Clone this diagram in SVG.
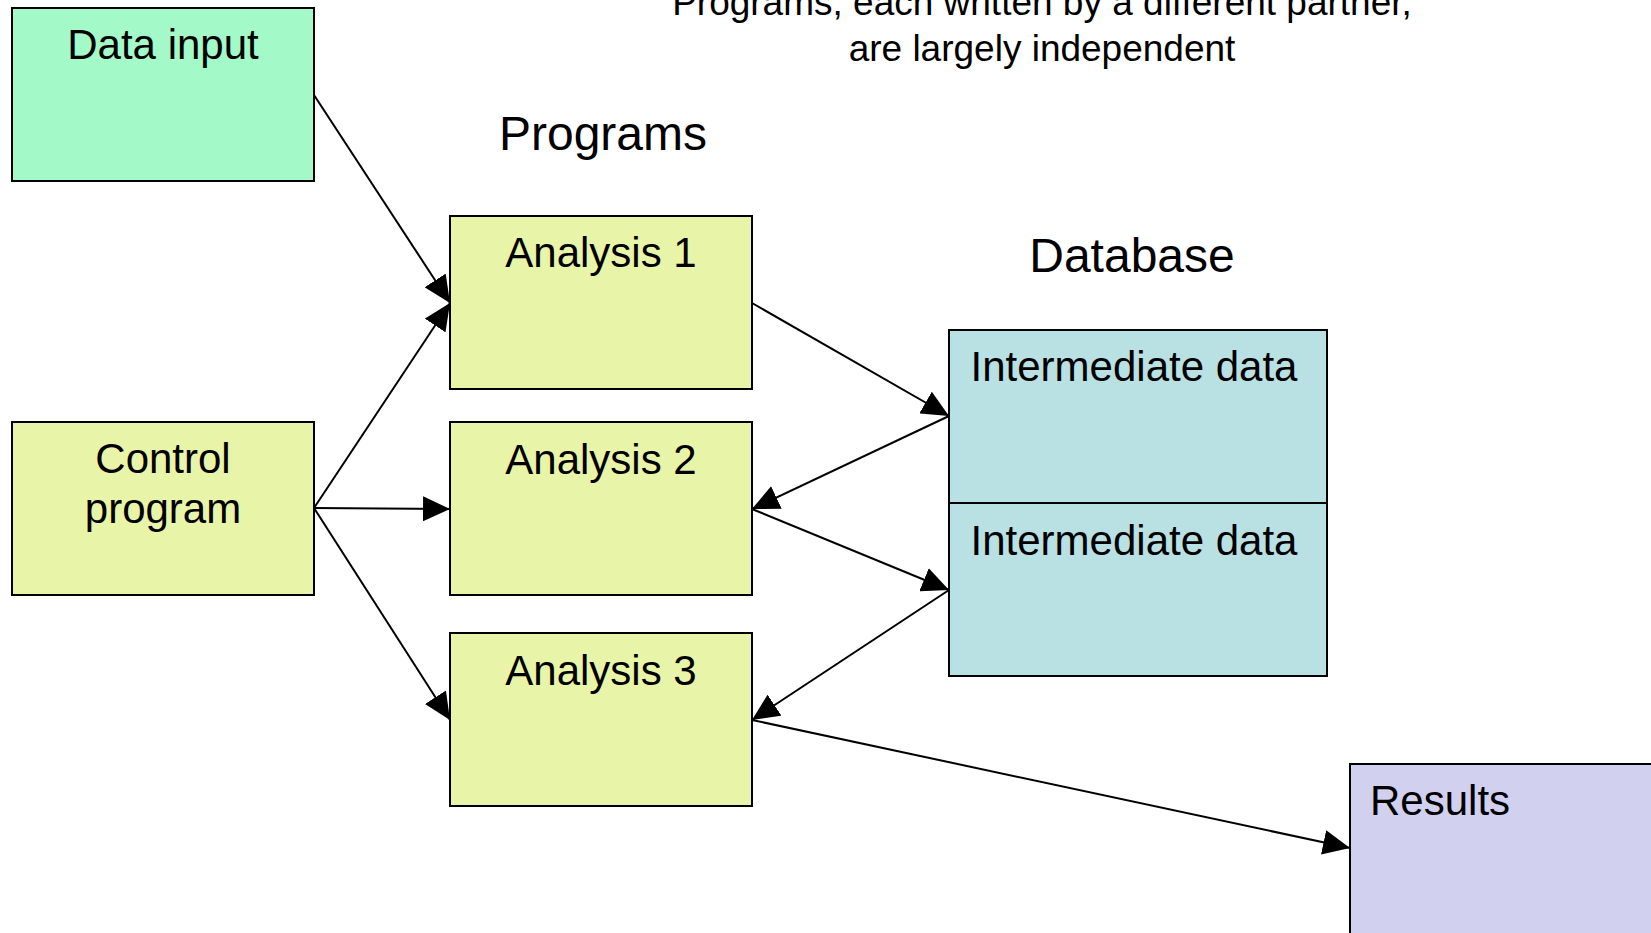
<svg xmlns="http://www.w3.org/2000/svg" width="1651" height="933" viewBox="0 0 1651 933">
<style>
text{font-family:"Liberation Sans",Arial,sans-serif;fill:#000}
.lbl{font-size:42px;text-anchor:middle}
.hdr{font-size:48px;text-anchor:middle}
.note{font-size:37px;text-anchor:middle}
.box{stroke:#000;stroke-width:2}
.conn line{stroke:#000;stroke-width:2;marker-end:url(#ah)}
</style>
<defs>
<marker id="ah" markerUnits="userSpaceOnUse" markerWidth="27" markerHeight="25" refX="27" refY="12.5" orient="auto" viewBox="0 0 27 25">
<path d="M0,0 L27,12.5 L0,25 z" fill="#000"/>
</marker>
</defs>
<rect width="1651" height="933" fill="#fff"/>
<g id="note">
<text class="note" x="1042" y="15">Programs, each written by a different partner,</text>
<text class="note" x="1042" y="61">are largely independent</text>
</g>
<g id="hdr-programs"><text class="hdr" x="603" y="150">Programs</text></g>
<g id="hdr-database"><text class="hdr" x="1132" y="272">Database</text></g>
<g id="data-input">
<rect class="box" x="12" y="8" width="302" height="173" fill="#a3f9c7"/>
<text class="lbl" x="163" y="59">Data input</text>
</g>
<g id="control-program">
<rect class="box" x="12" y="422" width="302" height="173" fill="#e8f5a8"/>
<text class="lbl" x="163" y="473">Control</text>
<text class="lbl" x="163" y="523">program</text>
</g>
<g id="analysis-1">
<rect class="box" x="450" y="216" width="302" height="173" fill="#e8f5a8"/>
<text class="lbl" x="601" y="267">Analysis 1</text>
</g>
<g id="analysis-2">
<rect class="box" x="450" y="422" width="302" height="173" fill="#e8f5a8"/>
<text class="lbl" x="601" y="474">Analysis 2</text>
</g>
<g id="analysis-3">
<rect class="box" x="450" y="633" width="302" height="173" fill="#e8f5a8"/>
<text class="lbl" x="601" y="685">Analysis 3</text>
</g>
<g id="intermediate-1">
<rect class="box" x="949" y="330" width="378" height="173" fill="#b9e0e3"/>
<text class="lbl" x="1134" y="381">Intermediate data</text>
</g>
<g id="intermediate-2">
<rect class="box" x="949" y="503" width="378" height="173" fill="#b9e0e3"/>
<text class="lbl" x="1134" y="555">Intermediate data</text>
</g>
<g id="results">
<rect class="box" x="1350" y="764" width="320" height="190" fill="#d1d1ef"/>
<text x="1370" y="815" style="font-size:42px">Results</text>
</g>
<g id="connectors" class="conn">
<line x1="314" y1="95" x2="450" y2="303"/>
<line x1="314" y1="508" x2="450" y2="303"/>
<line x1="314" y1="508" x2="450" y2="509"/>
<line x1="314" y1="508" x2="450" y2="720"/>
<line x1="752" y1="303" x2="949" y2="416"/>
<line x1="949" y1="416" x2="752" y2="509"/>
<line x1="752" y1="509" x2="949" y2="590"/>
<line x1="949" y1="590" x2="752" y2="720"/>
<line x1="752" y1="720" x2="1350" y2="848"/>
</g>
</svg>
